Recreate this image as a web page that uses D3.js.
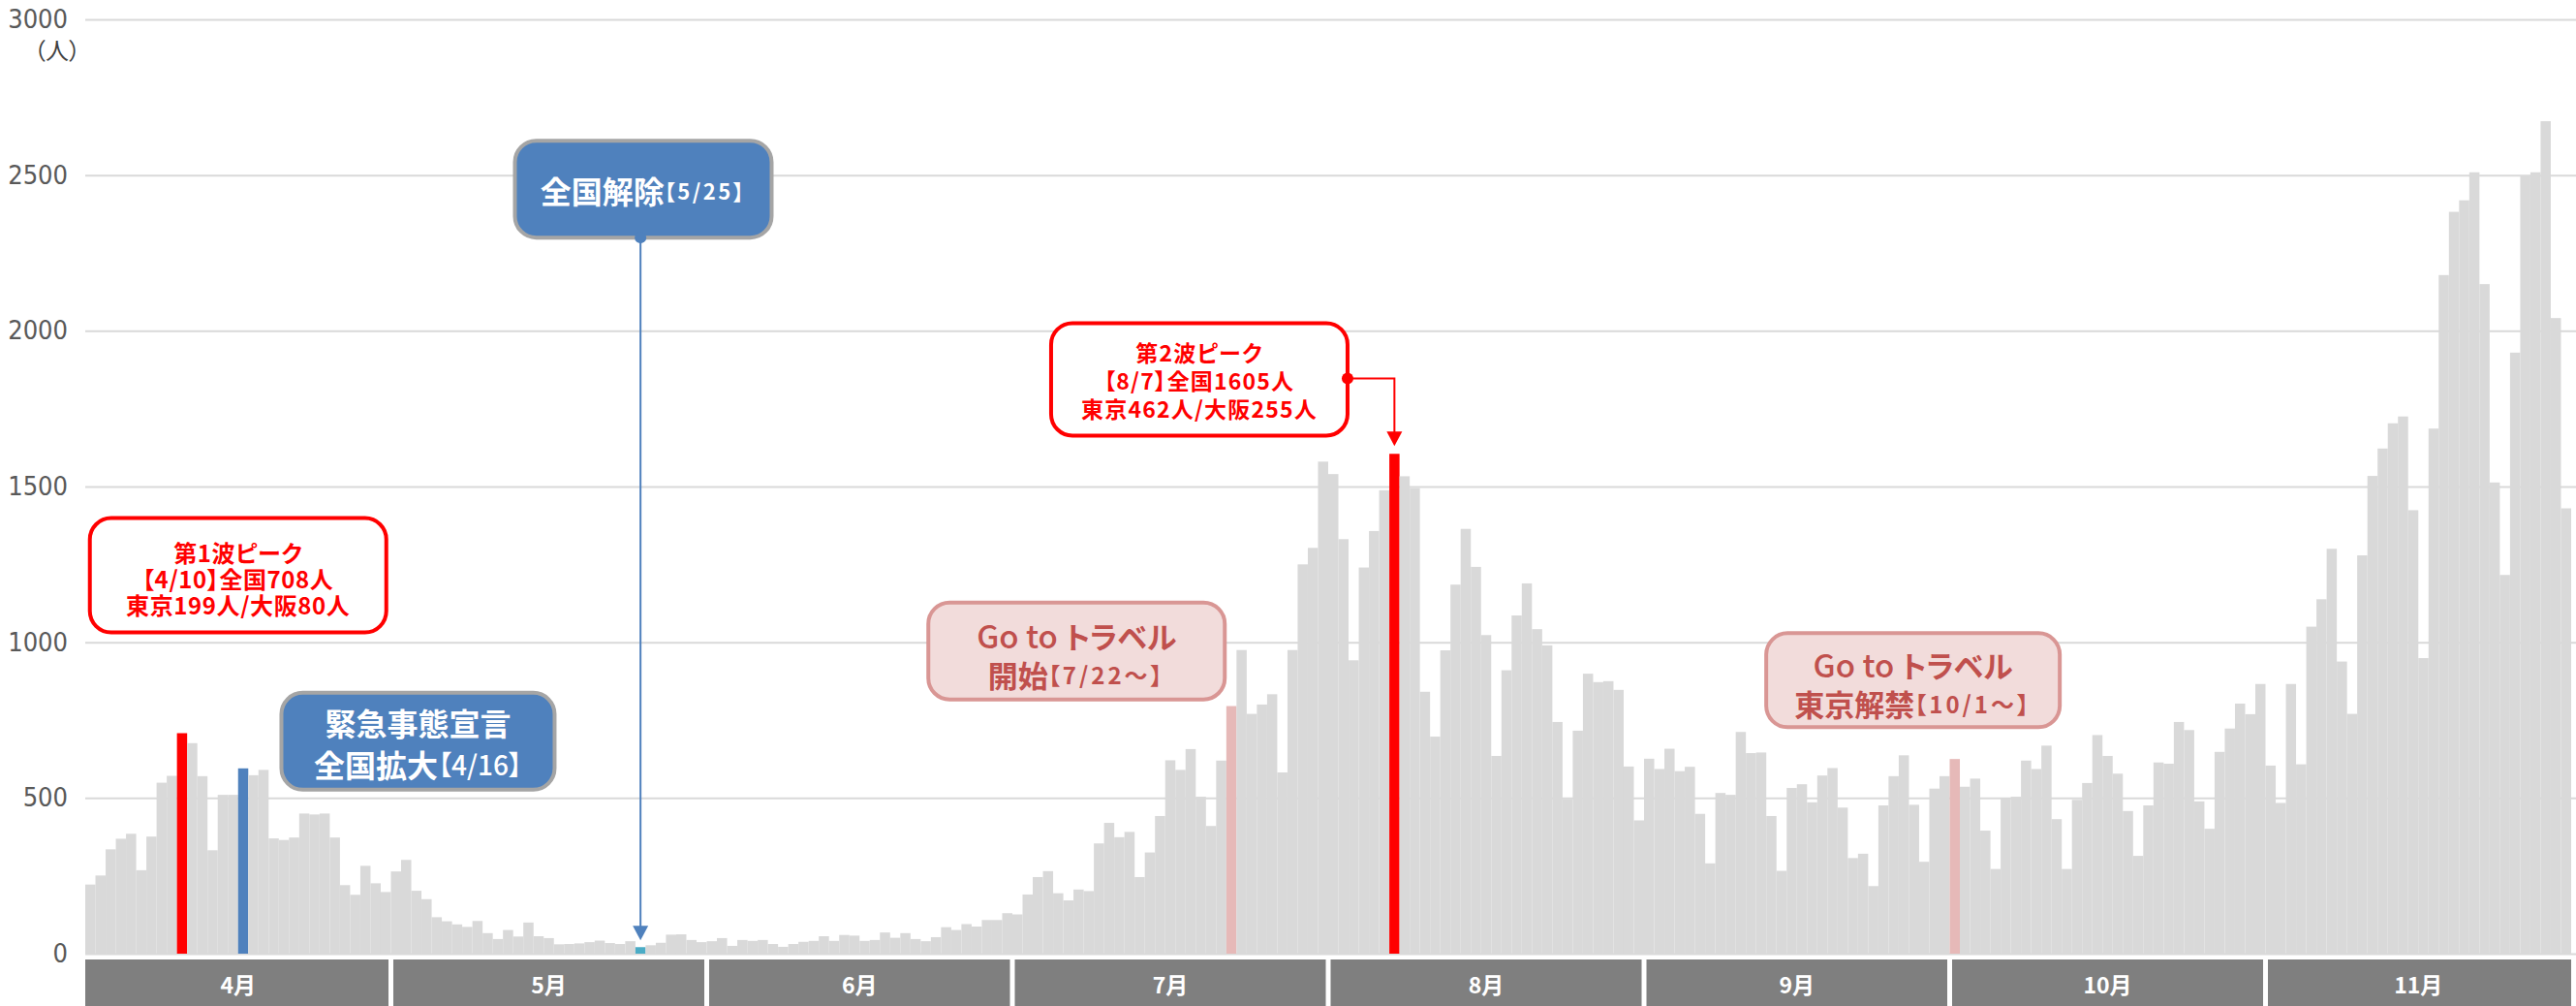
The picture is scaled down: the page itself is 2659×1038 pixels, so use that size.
<!DOCTYPE html>
<html>
<head>
<meta charset="utf-8">
<script src="https://cdn.jsdelivr.net/npm/d3@7"></script>
<style>
  html, body { margin: 0; padding: 0; background: #fff; }
  svg { display: block; font-family: "Noto Sans CJK JP", sans-serif; }
</style>
</head>
<body>
<svg id="chart" width="2659" height="1038"></svg>
<script>
// Daily new cases nationwide, 2020-04-01 .. 2020-11-30
const monthNumbers = [4, 5, 6, 7, 8, 9, 10, 11];
const monthLabels = ["4月", "5月", "6月", "7月", "8月", "9月", "10月", "11月"];
const casesApr = [222,251,335,369,385,268,376,549,571,708,676,570,332,510,510,595,573,590,370,365,373,450,447,450,373,220,189,282,226,198];
const casesMay = [264,301,202,175,117,104,94,86,105,66,47,76,55,100,56,50,30,31,33,37,42,34,31,40,21,27,35,61,62,44,37];
const casesJun = [40,50,25,44,41,44,31,22,31,38,41,56,41,60,58,41,44,68,51,66,47,40,53,85,76,95,87,108,108,130];
const casesJul = [126,190,246,265,194,171,206,201,354,420,374,391,246,325,442,621,590,657,504,410,620,795,975,770,800,833,582,975,1250,1303,1580];
const casesAug = [1540,1331,942,1240,1357,1488,1605,1533,1495,841,697,974,1185,1364,1242,1023,635,910,1086,1189,1042,990,744,497,716,899,872,875,847,601,428];
const casesSep = [626,593,658,586,600,449,290,516,510,712,644,646,442,266,532,544,486,572,596,469,307,321,217,476,570,637,478,295,530,570];
const casesOct = [625,536,562,395,272,498,504,620,593,668,432,272,494,548,702,635,578,458,314,476,614,610,744,718,489,401,648,723,803,769,866];
const casesNov = [604,484,866,608,1050,1138,1300,938,770,1279,1534,1622,1703,1725,1424,949,1686,2179,2382,2419,2509,2150,1513,1216,1930,2499,2509,2673,2041,1430];

const yTicks = [0, 500, 1000, 1500, 2000, 2500, 3000];
const yUnit = "（人）";

// Days singled out in the series
const markedDays = { "4/10": "peak", "8/7": "peak", "4/16": "declare", "5/25": "lift", "7/22": "travel", "10/1": "travel" };

// Callout texts
const noteWave1 = ["第1波ピーク", "【4/10】全国708人", "東京199人/大阪80人"];
const noteDeclare = [["緊急事態宣言"], ["全国拡大", "【4/16】"]];
const noteLift = [["全国解除", "【5/25】"]];
const noteWave2 = ["第2波ピーク", "【8/7】全国1605人", "東京462人/大阪255人"];
const noteTravelStart = [["Go to ", "トラベル"], ["開始", "【7/22～】"]];
const noteTravelTokyo = [["Go to ", "トラベル"], ["東京解禁", "【10/1～】"]];

// ---------------------------------------------------------------
const W = 2659, H = 1038;
const svg = d3.select("#chart");

const monthSeries = [casesApr, casesMay, casesJun, casesJul, casesAug, casesSep, casesOct, casesNov];
const days = [];
monthSeries.forEach((arr, mi) => arr.forEach((v, di) => {
  days.push({ key: `${monthNumbers[mi]}/${di + 1}`, month: mi, value: v });
}));

const x = d3.scaleBand().domain(days.map(d => d.key)).range([88, 2654]).paddingInner(0).paddingOuter(0);
const y = d3.scaleLinear().domain([0, 3000]).range([984, 20]);
const bw = x.bandwidth();
const xc = key => x(key) + bw / 2;
// fractional day position (0 = left edge of the first day)
const xt = t => x.range()[0] + t * bw;

const colors = {
  base: "#d9d9d9", peak: "#ff0000", declare: "#4f81bd", lift: "#4bacc6", travel: "#e6b9b8",
  grid: "#d9d9d9", tick: "#595959", band: "#7f7f7f",
  blueBox: "#4f81bd", blueEdge: "#a5a5a5", red: "#ff0000",
  pinkFill: "#f2dcdb", pinkEdge: "#d99694", pinkText: "#c0504d"
};

// gridlines + tick labels
const yAxis = svg.append("g")
  .attr("transform", `translate(${x.range()[0]},0)`)
  .call(d3.axisLeft(y).tickValues(yTicks).tickFormat(d3.format("d"))
    .tickSize(-(W - x.range()[0])).tickPadding(18));
yAxis.select(".domain").remove();
yAxis.selectAll(".tick line").attr("stroke", colors.grid).attr("stroke-width", 2);
yAxis.selectAll(".tick text")
  .attr("fill", colors.tick)
  .style("font-family", '"Liberation Sans Narrow", "DejaVu Sans Condensed", sans-serif')
  .style("font-size", "27px");

svg.append("text")
  .attr("x", 83).attr("y", 50)
  .attr("text-anchor", "end").attr("dominant-baseline", "central")
  .attr("fill", "#404040").style("font-size", "24px")
  .style("font-feature-settings", '"palt"')
  .text(yUnit);

// daily bars
svg.append("g").selectAll("rect").data(days).join("rect")
  .attr("x", d => x(d.key))
  .attr("width", bw)
  .attr("y", d => y(d.value))
  .attr("height", d => y(0) - y(d.value))
  .attr("fill", d => colors[markedDays[d.key] || "base"]);

// month bands under the axis
const bandTop = 990, gap = 2.5;
const monthSpans = monthLabels.map((label, mi) => {
  const md = days.filter(d => d.month === mi);
  return { label, x0: x(md[0].key), x1: x(md[md.length - 1].key) + bw, first: mi === 0, last: mi === monthLabels.length - 1 };
});
const bands = svg.append("g");
bands.selectAll("rect").data(monthSpans).join("rect")
  .attr("x", d => d.x0 + (d.first ? 0 : gap))
  .attr("width", d => d.x1 - d.x0 - (d.first ? 0 : gap) - (d.last ? 0 : gap))
  .attr("y", bandTop).attr("height", H - bandTop)
  .attr("fill", colors.band);
bands.selectAll("text").data(monthSpans).join("text")
  .attr("x", d => (d.x0 + d.x1) / 2).attr("y", 1015)
  .attr("text-anchor", "middle").attr("dominant-baseline", "central")
  .attr("fill", "#fff").style("font-size", "23px").style("font-weight", 700)
  .text(d => d.label);

// ---------------------------------------------------------------
// callouts
const layer = svg.append("g");

function box(cx, cy, w, h, fill, stroke, sw) {
  layer.append("rect")
    .attr("x", cx - w / 2).attr("y", cy - h / 2).attr("width", w).attr("height", h)
    .attr("rx", 22).attr("ry", 22)
    .attr("fill", fill).attr("stroke", stroke).attr("stroke-width", sw);
}

// One multi-line text block: rows of segments, each row centred on cx at ys[i].
// styles mirror rows: {size, weight, palt, ls}
function lines(cx, ys, rows, fill, styles) {
  const t = layer.append("text")
    .attr("text-anchor", "middle").attr("dominant-baseline", "central")
    .attr("fill", fill);
  rows.forEach((row, i) => {
    row.forEach((seg, j) => {
      const st = styles[i][j];
      const ts = t.append("tspan")
        .style("font-size", st.size + "px")
        .style("font-weight", st.weight)
        .style("font-feature-settings", st.palt ? '"palt"' : "normal")
        .style("letter-spacing", (st.ls || 0) + "px")
        .text(seg);
      if (j === 0) ts.attr("x", cx).attr("y", ys[i]);
    });
  });
}

function arrowHead(px, tipY, color) {
  layer.append("path")
    .attr("d", `M${px - 8},${tipY - 15} L${px + 8},${tipY - 15} L${px},${tipY} Z`)
    .attr("fill", color);
}

// first wave peak
{
  const cx = xt(15), cy = y(1215);
  box(cx, cy, 306, 118, "#fff", colors.red, 4);
  const st = {size: 24, weight: 700, palt: true, ls: 0.6};
  lines(cx, [cy - 25, cy + 2, cy + 29], noteWave1.map(s => [s]), colors.red, [[st], [st], [st]]);
}

// state of emergency extended nationwide
{
  const cx = xt(32.66), cy = y(682);
  box(cx, cy, 282, 100, colors.blueBox, colors.blueEdge, 4);
  lines(cx, [cy - 20, cy + 23], noteDeclare, "#fff",
    [[{size: 32, weight: 700}], [{size: 32, weight: 700}, {size: 28, weight: 500, palt: true}]]);
}

// lifted nationwide, with a leader down to the day
{
  const cx = xt(54.77), cy = y(2455), w = 265, h = 100;
  box(cx, cy, w, h, colors.blueBox, colors.blueEdge, 4);
  lines(cx, [cy + 1], noteLift, "#fff",
    [[{size: 32, weight: 700}, {size: 22, weight: 700, palt: true, ls: 2.5}]]);
  const px = xc("5/25"), top = cy + h / 2, tip = y(casesMay[24]) - 7;
  layer.append("line").attr("x1", px).attr("x2", px).attr("y1", top).attr("y2", tip - 12)
    .attr("stroke", colors.declare).attr("stroke-width", 2);
  arrowHead(px, tip, colors.declare);
  layer.append("circle").attr("cx", px).attr("cy", top).attr("r", 6).attr("fill", colors.declare);
}

// second wave peak, leader to 8/7
{
  const cx = xt(109.35), cy = y(1844), w = 306, h = 116;
  box(cx, cy, w, h, "#fff", colors.red, 4);
  const st = {size: 23, weight: 700, palt: true, ls: 1.2};
  lines(cx, [cy - 28, cy + 1, cy + 30], noteWave2.map(s => [s]), colors.red, [[st], [st], [st]]);
  const sx = cx + w / 2, sy = cy - 1, px = xc("8/7"), tip = y(casesAug[6]) - 8;
  layer.append("path").attr("d", `M${sx},${sy} H${px} V${tip - 12}`)
    .attr("fill", "none").attr("stroke", colors.red).attr("stroke-width", 2);
  arrowHead(px, tip, colors.red);
  layer.append("circle").attr("cx", sx).attr("cy", sy).attr("r", 6).attr("fill", colors.red);
}

// Go To Travel: start, and Tokyo included
const travelStyles = [
  [{size: 33, weight: 500}, {size: 31, weight: 700, palt: true}],
  [{size: 31, weight: 700}, {size: 24, weight: 700, palt: true, ls: 3}]
];
{
  const cx = xt(97.3), cy = y(972);
  box(cx, cy, 306, 100, colors.pinkFill, colors.pinkEdge, 4);
  lines(cx, [cy - 17, cy + 23], noteTravelStart, colors.pinkText, travelStyles);
}
{
  const cx = xt(179.4), cy = y(878);
  box(cx, cy, 303, 97, colors.pinkFill, colors.pinkEdge, 4);
  lines(cx, [cy - 17, cy + 23], noteTravelTokyo, colors.pinkText, travelStyles);
}
</script>
</body>
</html>
